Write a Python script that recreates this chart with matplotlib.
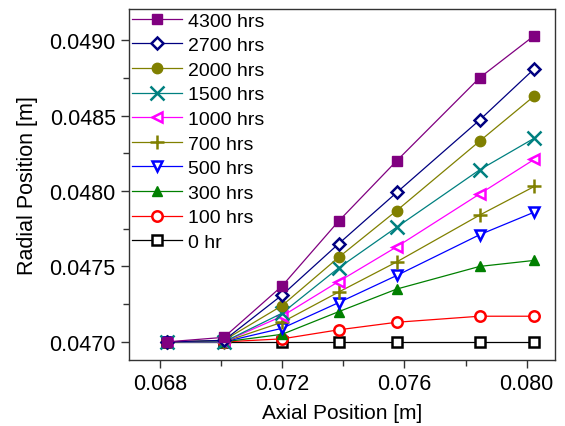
import matplotlib.pyplot as plt
from matplotlib.ticker import MultipleLocator, FormatStrFormatter

plt.rcParams['font.family'] = ['Liberation Sans', 'DejaVu Sans']

axial = [0.06823, 0.07010, 0.07200, 0.07385, 0.07575, 0.07846, 0.08025]

labels = ["4300 hrs", "2700 hrs", "2000 hrs", "1500 hrs", "1000 hrs",
          "700 hrs", "500 hrs", "300 hrs", "100 hrs", "0 hr"]

r_4300 = [0.04700, 0.04703, 0.04737, 0.04780, 0.04820, 0.04875, 0.04903]
r_2700 = [0.04700, 0.04701, 0.04731, 0.04765, 0.04799, 0.04847, 0.04881]
r_2000 = [0.04700, 0.04701, 0.04724, 0.04756, 0.04787, 0.04833, 0.04863]
r_1500 = [0.04700, 0.04700, 0.04719, 0.04749, 0.04776, 0.04814, 0.04835]
r_1000 = [0.04700, 0.04700, 0.04717, 0.04740, 0.04763, 0.04798, 0.04821]
r_700 = [0.04700, 0.04700, 0.04713, 0.04733, 0.04753, 0.04784, 0.04803]
r_500 = [0.04700, 0.04700, 0.04709, 0.04726, 0.04744, 0.04771, 0.04786]
r_300 = [0.04700, 0.04700, 0.04705, 0.04720, 0.04735, 0.04750, 0.04754]
r_100 = [0.04700, 0.04700, 0.04702, 0.04708, 0.04713, 0.04717, 0.04717]
r_0 = [0.04700, 0.04700, 0.04700, 0.04700, 0.04700, 0.04700, 0.04700]

series = [r_4300, r_2700, r_2000, r_1500, r_1000, r_700, r_500, r_300, r_100, r_0]

# colour, marker, filled
styles = [
    ("#800080", "s", True),
    ("#000080", "D", False),
    ("#808000", "o", True),
    ("#008080", "x", False),
    ("#FF00FF", "<", False),
    ("#808000", "+", False),
    ("#0000FF", "v", False),
    ("#008000", "^", True),
    ("#FF0000", "o", False),
    ("#000000", "s", False),
]

fig = plt.figure(figsize=(5.65, 4.27), dpi=100)
ax = fig.add_axes([0.228, 0.1546, 0.754, 0.822])

# draw bottom series first so 4300 sits on top
for vals, lab, (col, mk, filled) in reversed(list(zip(series, labels, styles))):
    ms = 7.5
    if mk == "D":
        ms = 6.5
    if mk in ("x", "+"):
        ms = 10
    ax.plot(axial, vals, color=col, lw=0.9, marker=mk, markersize=ms,
            markerfacecolor=col if filled else "white",
            markeredgecolor=col, markeredgewidth=1.8 if not filled else 1.0,
            label=lab)

handles, labs = ax.get_legend_handles_labels()
leg = ax.legend(handles[::-1], labs[::-1], loc="upper left", frameon=False,
                fontsize=14, handlelength=2.6, handletextpad=0.3,
                labelspacing=0.36, borderpad=0.05, borderaxespad=0.1,
                bbox_to_anchor=(0.0, 1.0))

ax.set_xlim(0.06699, 0.08092)
ax.set_ylim(0.04688, 0.049206)
ax.xaxis.set_major_locator(MultipleLocator(0.004))
ax.xaxis.set_minor_locator(MultipleLocator(0.002))
ax.yaxis.set_major_locator(MultipleLocator(0.0005))
ax.yaxis.set_minor_locator(MultipleLocator(0.00025))
ax.xaxis.set_major_formatter(FormatStrFormatter("%.3f"))
ax.yaxis.set_major_formatter(FormatStrFormatter("%.4f"))
ax.tick_params(which="both", direction="out", top=False, right=False,
               labelsize=15.5, color="#333333")
ax.tick_params(which="major", length=6, width=1)
ax.tick_params(which="minor", length=4, width=1)
for sp in ax.spines.values():
    sp.set_color("#333333")
    sp.set_linewidth(1.0)

ax.set_xlabel("Axial Position [m]", fontsize=15, labelpad=6)
ax.set_ylabel("Radial Position [m]", fontsize=15.5, labelpad=8)

fig.savefig("out.png", dpi=100)
